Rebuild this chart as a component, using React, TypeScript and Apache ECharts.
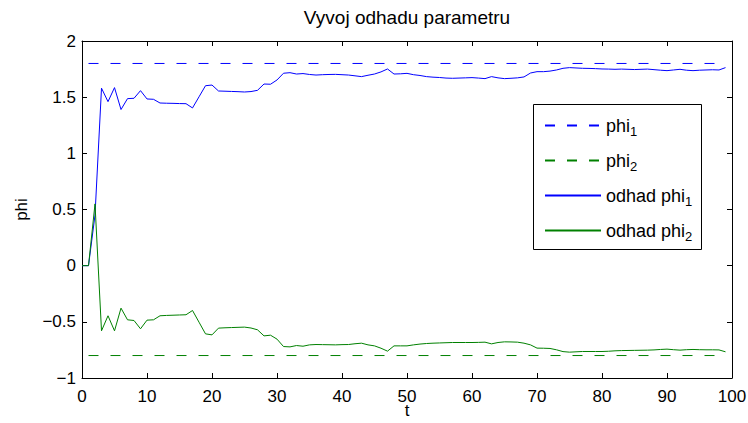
import React, { useEffect, useRef } from "react";
import * as echarts from "echarts";

const TITLE = "Vyvoj odhadu parametru";
const X_NAME = "t";
const Y_NAME = "phi";
const X_TICKS = { min: 0, max: 100, interval: 10 };
const Y_TICKS = { min: -1, max: 2, interval: 0.5 };

const SERIES_NAMES = ["phi_1", "phi_2", "odhad phi_1", "odhad phi_2"];
const TRUE_PHI = [1.8, -0.8];
const TRUE_T_RANGE = [1, 99];

const EST_PHI1 = [
  0, 0, 0.45, 1.58, 1.46, 1.585, 1.39, 1.487, 1.49, 1.558,
  1.484, 1.481, 1.448, 1.446, 1.445, 1.443, 1.442, 1.404, 1.503, 1.602,
  1.608, 1.555, 1.553, 1.551, 1.549, 1.546, 1.55, 1.561, 1.617, 1.615,
  1.653, 1.713, 1.718, 1.706, 1.71, 1.702, 1.697, 1.7, 1.702, 1.703,
  1.7, 1.697, 1.69, 1.683, 1.695, 1.706, 1.725, 1.751, 1.706, 1.708,
  1.712, 1.7, 1.693, 1.683, 1.678, 1.675, 1.67, 1.668, 1.67, 1.672,
  1.674, 1.67, 1.665, 1.683, 1.672, 1.665, 1.668, 1.672, 1.68, 1.715,
  1.727, 1.727, 1.732, 1.742, 1.757, 1.763, 1.76, 1.757, 1.756, 1.754,
  1.751, 1.75, 1.748, 1.75, 1.748, 1.746, 1.748, 1.75, 1.745, 1.74,
  1.736, 1.742, 1.748, 1.74, 1.736, 1.74, 1.742, 1.744, 1.742, 1.763,
];

const EST_PHI2 = [
  0, 0, 0.55, -0.58, -0.446, -0.58, -0.378, -0.482, -0.488, -0.562,
  -0.485, -0.482, -0.446, -0.443, -0.441, -0.439, -0.437, -0.399, -0.503, -0.607,
  -0.616, -0.556, -0.553, -0.551, -0.549, -0.547, -0.555, -0.571, -0.625, -0.619,
  -0.654, -0.72, -0.723, -0.711, -0.717, -0.705, -0.702, -0.703, -0.704, -0.705,
  -0.703, -0.702, -0.695, -0.69, -0.705, -0.714, -0.735, -0.761, -0.714, -0.714,
  -0.714, -0.705, -0.698, -0.693, -0.69, -0.688, -0.686, -0.684, -0.684, -0.684,
  -0.684, -0.683, -0.681, -0.696, -0.684, -0.678, -0.679, -0.681, -0.69, -0.705,
  -0.734, -0.735, -0.737, -0.749, -0.765, -0.77, -0.767, -0.764, -0.764, -0.764,
  -0.764, -0.762, -0.758, -0.756, -0.755, -0.754, -0.753, -0.752, -0.75, -0.746,
  -0.743, -0.748, -0.752, -0.748, -0.746, -0.748, -0.749, -0.749, -0.75, -0.767,
];

const BLUE = "#0000ff";
const GREEN = "#008000";
const FONT = "'Liberation Sans', Arial, Helvetica, sans-serif";
const DASH = [10, 12];

export default function App() {
  const ref = useRef<HTMLDivElement>(null);

  useEffect(() => {
    document.body.style.margin = "0";
    if (!ref.current) return;
    const chart = echarts.init(ref.current, undefined, { renderer: "svg" });

    const estData = (arr: number[]) => arr.map((v, i) => [i, v]);
    const trueData = (v: number) => TRUE_T_RANGE.map((t) => [t, v]);

    const fmtY = (v: number) => String(v).replace("-", "\u2212");

    const baseAxis = {
      axisLine: { show: true, onZero: false, lineStyle: { color: "#000", width: 1 } },
      axisTick: { show: true, inside: true, length: 5, lineStyle: { color: "#000" } },
      splitLine: { show: false },
    };

    const lineSeries = (name: string, data: number[][], color: string, dashed: boolean) => ({
      name,
      type: "line",
      symbol: "none",
      data,
      color,
      lineStyle: { color, width: 1, type: dashed ? DASH : "solid" },
      itemStyle: { color },
    });

    chart.setOption({
      animation: false,
      backgroundColor: "#fff",
      textStyle: { fontFamily: FONT },
      title: {
        text: TITLE,
        left: 407,
        top: 8,
        padding: 0,
        textAlign: "center",
        textStyle: { fontFamily: FONT, fontSize: 19, fontWeight: "normal", color: "#000" },
      },
      grid: {
        left: 82,
        right: 16,
        top: 41,
        bottom: 45,
        containLabel: false,
        outerBoundsMode: "none",
      },
      graphic: [
        {
          type: "rect",
          z: 1,
          shape: { x: 533.5, y: 104.5, width: 168, height: 145 },
          style: { fill: "#fff", stroke: "#000", lineWidth: 1 },
        },
      ],
      xAxis: [
        {
          type: "value",
          ...X_TICKS,
          ...baseAxis,
          position: "bottom",
          name: X_NAME,
          nameLocation: "middle",
          nameGap: 26,
          nameMoveOverlap: false,
          nameTextStyle: { fontFamily: FONT, fontSize: 17, lineHeight: 12, color: "#000" },
          axisLabel: { margin: 11, fontFamily: FONT, fontSize: 17, lineHeight: 14, color: "#000" },
        },
        {
          type: "value",
          ...X_TICKS,
          ...baseAxis,
          position: "top",
          axisLabel: { show: false },
        },
      ],
      yAxis: [
        {
          type: "value",
          ...Y_TICKS,
          ...baseAxis,
          position: "left",
          name: Y_NAME,
          nameLocation: "middle",
          nameRotate: 90,
          nameGap: 52,
          nameMoveOverlap: false,
          nameTextStyle: { fontFamily: FONT, fontSize: 17, color: "#000" },
          axisLabel: { margin: 6, fontFamily: FONT, fontSize: 17, color: "#000", formatter: fmtY },
        },
        {
          type: "value",
          ...Y_TICKS,
          ...baseAxis,
          position: "right",
          axisLabel: { show: false },
        },
      ],
      legend: {
        orient: "vertical",
        left: 544,
        top: 114.5,
        padding: 0,
        itemWidth: 56,
        itemHeight: 1,
        itemGap: 12,
        borderWidth: 0,
        data: SERIES_NAMES,
        formatter: (name: string) => name.replace(/_(\d)/, "{sub|$1}"),
        textStyle: {
          fontFamily: FONT,
          fontSize: 18,
          color: "#000",
          lineHeight: 22,
          rich: {
            sub: {
              fontFamily: FONT,
              fontSize: 13,
              lineHeight: 13,
              color: "#000",
              verticalAlign: "top",
              padding: [10, 0, 0, 0],
            },
          },
        },
      },
      series: [
        lineSeries(SERIES_NAMES[0], trueData(TRUE_PHI[0]), BLUE, true),
        lineSeries(SERIES_NAMES[1], trueData(TRUE_PHI[1]), GREEN, true),
        lineSeries(SERIES_NAMES[2], estData(EST_PHI1), BLUE, false),
        lineSeries(SERIES_NAMES[3], estData(EST_PHI2), GREEN, false),
      ],
    });

    return () => chart.dispose();
  }, []);

  return <div ref={ref} style={{ width: 748, height: 423 }} />;
}
